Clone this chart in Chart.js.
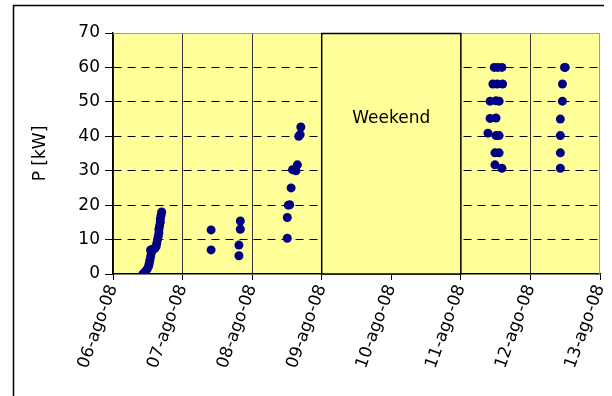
<!DOCTYPE html>
<html lang="es">
<head>
<meta charset="UTF-8">
<title>P [kW]</title>
<script src="https://cdn.jsdelivr.net/npm/chart.js"></script>
<style>
  body { margin: 0; background: #fff; }
  #wrap { width: 612px; height: 396px; }
</style>
</head>
<body>
<div id="wrap"><canvas id="chart" width="612" height="396"></canvas></div>
<script>
// x axis: days counted from 06-ago-08
const dayLabels = ['06-ago-08', '07-ago-08', '08-ago-08', '09-ago-08', '10-ago-08', '11-ago-08', '12-ago-08', '13-ago-08'];
const yTicks = [0, 10, 20, 30, 40, 50, 60, 70];

// measurements per working day (time in days, power in kW)
const day1Time  = [0.43, 0.45, 0.47, 0.49, 0.51, 0.52, 0.53, 0.54, 0.55, 0.54, 0.57, 0.60, 0.62, 0.63, 0.64, 0.65, 0.66, 0.66, 0.67, 0.68, 0.68, 0.69, 0.70];
const day1Power = [0, 0.3, 0.8, 1.4, 2.2, 3.0, 4.0, 5.0, 6.0, 7.0, 7.2, 7.4, 8.0, 9.0, 10.0, 11.0, 12.0, 13.0, 14.0, 15.0, 16.0, 17.0, 18.0];
const day2Time  = [1.41, 1.41, 1.83, 1.83, 1.81, 1.81];
const day2Power = [12.8, 7.0, 15.4, 13.0, 8.4, 5.3];
const day3Time  = [2.505, 2.505, 2.52, 2.54, 2.56, 2.58, 2.63, 2.65, 2.67, 2.69, 2.70];
const day3Power = [10.4, 16.4, 20.0, 20.1, 25.0, 30.3, 30.0, 31.7, 40.0, 40.5, 42.7];
const day6Time  = [5.48, 5.53, 5.59, 5.46, 5.52, 5.60, 5.42, 5.505, 5.55, 5.42, 5.505, 5.39, 5.505, 5.55, 5.49, 5.55, 5.49, 5.59];
const day6Power = [60.0, 60.0, 60.0, 55.2, 55.2, 55.2, 50.2, 50.3, 50.2, 45.2, 45.3, 40.9, 40.2, 40.2, 35.2, 35.2, 31.7, 30.7];
const day7Time  = [6.49, 6.50, 6.46, 6.46, 6.43, 6.43, 6.43, 6.43];
const day7Power = [60.0, 60.0, 55.2, 50.2, 45.0, 40.2, 35.2, 30.7];

// weekend block
const weekendStart = 3, weekendEnd = 5, weekendLabel = 'Weekend', weekendLabelY = 45;

const allTime = [].concat(day1Time, day2Time, day3Time, day6Time, day7Time);
const allPower = [].concat(day1Power, day2Power, day3Power, day6Power, day7Power);
const points = allTime.map((t, i) => ({ x: t, y: allPower[i] }));

const FONT = '"DejaVu Sans", Arial, sans-serif';
const YELLOW = '#FFFF99';

const plotDecor = {
    id: 'plotDecor',
    beforeDraw(chart) {
        const { ctx, chartArea: a } = chart;
        ctx.save();
        // outer frame
        ctx.strokeStyle = '#000';
        ctx.lineWidth = 1.5;
        ctx.beginPath();
        ctx.moveTo(13.5, 396);
        ctx.lineTo(13.5, 5.5);
        ctx.lineTo(604, 5.5);
        ctx.stroke();
        // plot background
        ctx.fillStyle = YELLOW;
        ctx.fillRect(a.left, a.top, a.right - a.left, a.bottom - a.top);
        ctx.restore();
    },
    beforeDatasetsDraw(chart) {
        const { ctx, chartArea: a, scales: { x, y } } = chart;
        ctx.save();
        // plot border (top / right) in gray
        ctx.strokeStyle = '#999';
        ctx.lineWidth = 1;
        ctx.beginPath();
        ctx.moveTo(a.left, a.top + 0.5);
        ctx.lineTo(a.right - 0.5, a.top + 0.5);
        ctx.lineTo(a.right - 0.5, a.bottom);
        ctx.stroke();
        // weekend box covers the grid
        const x0 = x.getPixelForValue(weekendStart), x1 = x.getPixelForValue(weekendEnd);
        const y0 = y.getPixelForValue(y.max), y1 = y.getPixelForValue(y.min);
        ctx.fillStyle = YELLOW;
        ctx.fillRect(x0, y0, x1 - x0, y1 - y0);
        ctx.strokeStyle = '#000';
        ctx.lineWidth = 1.5;
        ctx.strokeRect(x0, y0 + 0.5, x1 - x0, y1 - y0 - 0.5);
        ctx.fillStyle = '#000';
        ctx.font = '17px ' + FONT;
        ctx.textAlign = 'center';
        ctx.textBaseline = 'middle';
        ctx.fillText(weekendLabel, (x0 + x1) / 2, y.getPixelForValue(weekendLabelY));
        ctx.restore();
    }
};

new Chart(document.getElementById('chart'), {
    type: 'scatter',
    data: {
        datasets: [{
            label: 'P',
            data: points,
            backgroundColor: '#000080',
            borderWidth: 0,
            pointRadius: 4.5,
            pointHoverRadius: 4.5
        }]
    },
    options: {
        responsive: false,
        animation: false,
        events: [],
        layout: { padding: { left: 0, top: 33, right: 12, bottom: 0 } },
        plugins: { legend: { display: false }, tooltip: { enabled: false } },
        scales: {
            x: {
                type: 'linear',
                min: 0,
                max: dayLabels.length - 1,
                afterBuildTicks: s => { s.ticks = dayLabels.map((_, i) => ({ value: i })); },
                afterFit: s => { s.height = 122; s.paddingLeft = 0; s.paddingRight = 0; },
                ticks: {
                    color: '#000',
                    font: { family: FONT, size: 17 },
                    minRotation: 70,
                    maxRotation: 70,
                    padding: 2,
                    callback: v => dayLabels[v]
                },
                grid: {
                    color: c => (c.tick && c.tick.value === dayLabels.length - 1) ? 'rgba(0,0,0,0)' : '#333',
                    lineWidth: 1,
                    tickLength: 6,
                    tickColor: '#000'
                },
                border: { color: '#000', width: 1.5 }
            },
            y: {
                min: 0,
                max: 70,
                afterBuildTicks: s => { s.ticks = yTicks.map(v => ({ value: v })); },
                afterFit: s => { s.width = 113; s.paddingTop = 0; s.paddingBottom = 0; },
                ticks: {
                    color: '#000',
                    font: { family: FONT, size: 17 },
                    padding: 5
                },
                grid: {
                    color: c => (c.tick && (c.tick.value === 0 || c.tick.value === 70)) ? 'rgba(0,0,0,0)' : '#000',
                    lineWidth: 1,
                    tickLength: 8,
                    tickColor: '#000',
                    tickBorderDash: []
                },
                border: { color: '#000', width: 1.5, dash: [8, 6] },
                title: {
                    display: true,
                    text: 'P [kW]',
                    color: '#000',
                    font: { family: FONT, size: 17 },
                    padding: { top: 30, bottom: 0 }
                }
            }
        }
    },
    plugins: [plotDecor]
});
</script>
</body>
</html>
